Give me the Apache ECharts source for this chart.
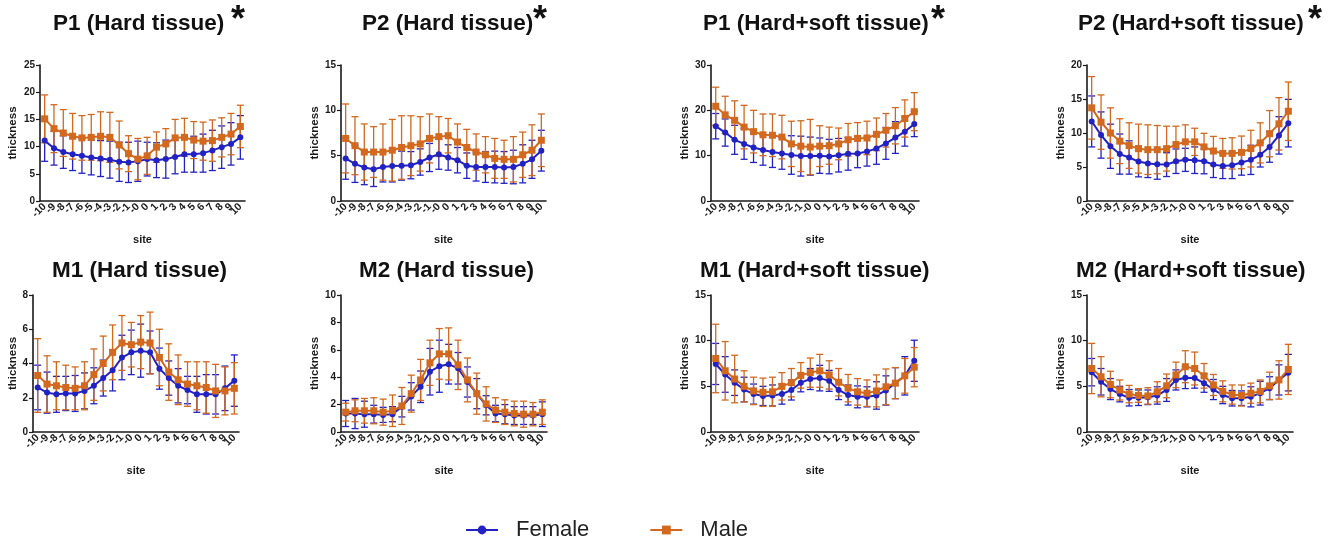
<!DOCTYPE html>
<html>
<head>
<meta charset="utf-8">
<script src="https://cdn.jsdelivr.net/npm/echarts@6/dist/echarts.min.js"></script>
<style>
html,body{margin:0;padding:0;background:#fff;}
#chart{width:1338px;height:537px;}
</style>
</head>
<body>
<div id="chart"></div>
<script>
// ---------- data ----------
const sites = ['-10','-9','-8','-7','-6','-5','-4','-3','-2','-1','-0','0','1','2','3','4','5','6','7','8','9','10'];

// P1 hard tissue
const p1HardF   = [11.1,9.7,9.0,8.6,8.3,8.0,7.8,7.6,7.2,7.1,7.3,7.7,7.5,7.7,8.1,8.6,8.6,8.8,9.3,9.9,10.5,11.7];
const p1HardFsd = [3.8,3.1,3.0,3.0,3.2,3.2,3.3,3.4,3.6,3.7,3.7,3.1,3.2,3.5,3.1,3.3,3.3,3.5,3.7,3.9,3.9,4.0];
const p1HardM   = [15.1,13.3,12.5,11.9,11.6,11.7,11.9,11.7,10.3,8.7,7.7,8.3,9.9,10.5,11.6,11.7,11.2,11.0,11.1,11.7,12.3,13.7];
const p1HardMsd = [4.4,4.4,4.3,4.2,4.1,4.2,4.5,4.6,4.4,3.3,3.8,3.4,2.8,2.8,3.4,3.5,3.4,3.5,3.8,3.6,3.8,3.9];
// P2 hard tissue
const p2HardF   = [4.7,4.1,3.7,3.5,3.75,3.85,3.9,3.95,4.3,4.8,5.15,4.8,4.5,3.9,3.75,3.75,3.75,3.7,3.75,4.1,4.6,5.55];
const p2HardFsd = [2.3,2.05,1.9,1.9,1.65,1.75,1.6,1.5,1.45,1.55,1.65,1.4,1.4,1.4,1.55,1.7,1.75,1.75,1.85,2.1,2.1,2.25];
const p2HardM   = [6.9,6.1,5.4,5.4,5.4,5.6,5.9,6.1,6.3,6.9,7.1,7.2,6.5,5.9,5.4,5.1,4.7,4.6,4.6,5.1,5.6,6.7];
const p2HardMsd = [3.8,3.2,3.1,2.8,3.1,3.4,3.5,3.3,3.0,2.7,2.2,1.9,2.0,2.0,2.0,2.0,2.2,2.1,2.5,2.5,2.8,2.9];
// P1 hard + soft tissue
const p1SoftF   = [16.5,15.1,13.5,12.6,11.8,11.25,10.8,10.5,10.15,9.9,9.9,10.0,9.8,10.1,10.4,10.5,10.9,11.6,12.7,14.0,15.3,17.0];
const p1SoftFsd = [2.8,3.0,3.2,3.4,3.3,3.35,3.4,3.5,4.25,4.4,4.2,3.9,3.8,3.7,3.6,3.15,3.2,3.5,3.5,3.5,3.2,2.8];
const p1SoftM   = [20.9,19.0,17.8,16.3,15.3,14.6,14.5,14.1,12.6,12.1,11.9,12.1,12.2,12.6,13.5,13.8,13.9,14.7,15.6,16.6,18.2,19.7];
const p1SoftMsd = [4.2,4.1,4.3,4.8,4.7,4.6,4.7,4.8,5.0,5.6,6.1,4.5,4.1,3.5,3.6,3.5,3.7,3.6,3.7,4.0,4.1,4.2];
// P2 hard + soft tissue
const p2SoftF   = [11.7,9.7,8.05,6.9,6.4,5.8,5.5,5.4,5.35,5.85,6.05,6.0,5.85,5.35,5.15,5.25,5.65,6.05,6.8,7.95,9.65,11.45];
const p2SoftFsd = [3.75,3.4,3.25,2.95,2.45,2.25,2.05,2.2,1.75,1.8,1.7,1.95,1.85,1.9,1.85,1.95,1.85,2.15,1.8,2.25,2.75,3.5];
const p2SoftM   = [13.7,11.6,10.0,8.8,8.15,7.7,7.55,7.55,7.7,8.3,8.7,8.7,7.95,7.35,7.0,7.0,7.15,7.7,8.55,9.9,11.35,13.2];
const p2SoftMsd = [4.6,4.0,3.7,3.3,3.35,3.6,3.65,3.55,3.3,2.7,2.5,2.0,2.0,2.15,2.2,2.3,2.4,2.7,2.95,3.4,3.85,4.3];
// M1 hard tissue
const m1HardF   = [2.6,2.3,2.2,2.25,2.25,2.4,2.7,3.15,3.6,4.35,4.65,4.75,4.65,3.7,3.15,2.7,2.45,2.2,2.2,2.2,2.55,3.0];
const m1HardFsd = [1.3,1.2,1.05,1.0,1.05,1.05,1.05,1.05,1.2,1.3,1.3,1.55,1.25,1.2,1.0,1.0,0.8,1.05,1.15,1.15,1.3,1.5];
const m1HardM   = [3.3,2.8,2.7,2.6,2.55,2.7,3.35,4.0,4.65,5.2,5.1,5.25,5.2,4.35,3.5,3.05,2.8,2.7,2.6,2.4,2.4,2.55];
const m1HardMsd = [2.15,1.65,1.4,1.3,1.25,1.4,1.5,1.6,1.6,1.6,1.3,1.55,1.8,1.65,1.65,1.45,1.3,1.4,1.5,1.55,1.4,1.5];
// M2 hard tissue
const m2HardF   = [1.35,1.35,1.3,1.3,1.25,1.3,1.85,2.6,3.3,4.4,4.8,4.95,4.65,3.65,2.8,1.95,1.35,1.3,1.2,1.2,1.2,1.3];
const m2HardFsd = [0.95,1.1,0.95,0.65,0.55,0.55,0.75,1.0,1.15,1.7,1.9,1.45,1.15,1.1,1.1,0.7,0.6,0.7,0.65,0.65,0.65,0.9];
const m2HardM   = [1.45,1.55,1.55,1.55,1.45,1.55,1.9,2.8,3.8,5.05,5.7,5.7,4.9,3.8,2.8,2.05,1.6,1.45,1.35,1.3,1.3,1.45];
const m2HardMsd = [0.65,0.8,0.9,0.95,0.95,1.15,1.35,1.35,1.5,1.65,1.85,1.9,1.8,1.6,1.5,1.25,0.9,0.9,0.9,0.95,0.85,0.9];
// M1 hard + soft tissue
const m1SoftF   = [7.45,6.3,5.4,4.65,4.15,3.95,4.0,4.15,4.6,5.4,5.8,5.9,5.6,4.6,4.05,3.85,3.85,4.0,4.55,5.35,6.15,7.8];
const m1SoftFsd = [2.25,1.95,1.4,1.35,1.1,1.05,1.15,1.1,1.1,1.0,1.15,1.4,1.15,1.05,1.1,1.2,1.1,1.5,1.6,1.7,2.1,2.25];
const m1SoftM   = [8.05,6.7,5.8,5.0,4.5,4.35,4.4,5.0,5.4,6.2,6.5,6.7,6.25,5.45,4.8,4.4,4.25,4.5,4.95,5.35,6.15,7.1];
const m1SoftMsd = [3.75,3.2,2.6,1.7,1.5,1.55,1.6,1.5,1.55,1.4,1.6,1.8,1.55,1.5,1.5,1.45,1.45,1.75,1.95,1.7,1.9,2.15];
// M2 hard + soft tissue
const m2SoftF   = [6.55,5.5,4.7,4.15,3.75,3.75,3.8,4.0,4.6,5.7,5.95,5.9,5.35,4.65,4.05,3.7,3.7,3.85,4.25,4.8,5.7,6.5];
const m2SoftFsd = [1.5,1.45,1.15,0.85,0.9,0.85,0.8,0.95,1.25,1.1,1.2,1.1,1.0,1.1,0.95,0.85,0.8,1.1,1.3,1.25,1.65,2.0];
const m2SoftM   = [6.95,6.05,5.2,4.6,4.15,4.0,3.95,4.4,5.05,6.25,7.15,6.95,6.15,5.15,4.45,4.1,4.0,4.25,4.45,5.05,5.7,6.85];
const m2SoftMsd = [2.75,2.2,1.45,1.1,0.95,0.75,0.9,1.1,1.3,1.4,1.75,1.8,1.35,1.15,1.15,1.05,1.15,1.1,1.25,1.5,2.1,2.75];

const seriesNames = ['Female','Male'];
const titles = ['P1 (Hard tissue)','P2 (Hard tissue)','P1 (Hard+soft tissue)','P2 (Hard+soft tissue)',
                'M1 (Hard tissue)','M2 (Hard tissue)','M1 (Hard+soft tissue)','M2 (Hard+soft tissue)'];
const yMax = [25,15,30,20,8,10,15,15];
const yStep = [5,5,10,5,2,2,5,5];

// ---------- layout ----------
const FEMALE = '#2222c4';
const MALE = '#d2691e';
const INK = '#1a1a1a';
const FONT = '"Liberation Sans", Arial, Helvetica, sans-serif';

const panels = [
  {f:p1HardF,fsd:p1HardFsd,m:p1HardM,msd:p1HardMsd, grid:[40,65,205,136], yGap:21, tx:53, ty:24, star:231},
  {f:p2HardF,fsd:p2HardFsd,m:p2HardM,msd:p2HardMsd, grid:[341,65,205,136], yGap:20, tx:362, ty:24, star:533},
  {f:p1SoftF,fsd:p1SoftFsd,m:p1SoftM,msd:p1SoftMsd, grid:[711,65,208,136], yGap:17, tx:703, ty:24, star:931},
  {f:p2SoftF,fsd:p2SoftFsd,m:p2SoftM,msd:p2SoftMsd, grid:[1087,65,206,136], yGap:19, tx:1078, ty:24, star:1308},
  {f:m1HardF,fsd:m1HardFsd,m:m1HardM,msd:m1HardMsd, grid:[33,295,206,137], yGap:14, tx:52, ty:271},
  {f:m2HardF,fsd:m2HardFsd,m:m2HardM,msd:m2HardMsd, grid:[341,295,206,137], yGap:20, tx:359, ty:271},
  {f:m1SoftF,fsd:m1SoftFsd,m:m1SoftM,msd:m1SoftMsd, grid:[711,295,208,137], yGap:17, tx:700, ty:271},
  {f:m2SoftF,fsd:m2SoftFsd,m:m2SoftM,msd:m2SoftMsd, grid:[1087,295,206,137], yGap:19, tx:1076, ty:271}
];

function errRender(color){
  return function(params, api){
    const x = api.value(0);
    const lo = api.coord([x, api.value(1)]);
    const hi = api.coord([x, api.value(2)]);
    const w = 3.5;
    const st = {stroke: color, lineWidth: 1.3};
    return {type:'group', children:[
      {type:'line', shape:{x1:lo[0],y1:lo[1],x2:hi[0],y2:hi[1]}, style:st},
      {type:'line', shape:{x1:hi[0]-w,y1:hi[1],x2:hi[0]+w,y2:hi[1]}, style:st},
      {type:'line', shape:{x1:lo[0]-w,y1:lo[1],x2:lo[0]+w,y2:lo[1]}, style:st}
    ]};
  };
}

const grid = [], xAxis = [], yAxis = [], series = [], graphic = [];
panels.forEach((p, i) => {
  grid.push({left:p.grid[0], top:p.grid[1], width:p.grid[2], height:p.grid[3], containLabel:false});
  xAxis.push({
    type:'category', gridIndex:i, data:sites, boundaryGap:true,
    name:'site', nameLocation:'middle', nameGap:33,
    nameTextStyle:{fontWeight:'bold', fontSize:11, color:INK, fontFamily:FONT},
    axisLine:{lineStyle:{color:INK, width:1.6}},
    axisTick:{alignWithLabel:true, interval:0, length:4, lineStyle:{color:INK, width:1.2}},
    axisLabel:{interval:0, rotate:45, fontSize:10.5, fontWeight:'bold', color:INK, margin:4, fontFamily:FONT},
    splitLine:{show:false}
  });
  yAxis.push({
    type:'value', gridIndex:i, min:0, max:yMax[i], interval:yStep[i],
    name:'thickness', nameLocation:'middle', nameGap:p.yGap, nameRotate:90,
    nameTextStyle:{fontWeight:'bold', fontSize:11.5, color:INK, fontFamily:FONT},
    axisLine:{show:true, lineStyle:{color:INK, width:1.6}},
    axisTick:{show:true, length:4, lineStyle:{color:INK, width:1.2}},
    axisLabel:{fontSize:10, fontWeight:'bold', color:INK, margin:5, fontFamily:FONT},
    splitLine:{show:false}
  });
  const groups = [
    {name:seriesNames[0], mean:p.f, sd:p.fsd, color:FEMALE, symbol:'circle', size:6},
    {name:seriesNames[1], mean:p.m, sd:p.msd, color:MALE, symbol:'rect', size:7}
  ];
  groups.forEach(g => {
    series.push({
      type:'custom', name:g.name + ' SD', xAxisIndex:i, yAxisIndex:i,
      renderItem: errRender(g.color),
      encode:{x:0, y:[1,2]},
      data: g.mean.map((v,j) => [j, v - g.sd[j], v + g.sd[j]]),
      z:2, silent:true
    });
  });
  groups.forEach(g => {
    series.push({
      type:'line', name:g.name, xAxisIndex:i, yAxisIndex:i, data:g.mean,
      symbol:g.symbol, symbolSize:g.size, showAllSymbol:true,
      lineStyle:{color:g.color, width:2}, itemStyle:{color:g.color},
      z:4, animation:false
    });
  });
  graphic.push({type:'text', x:p.tx, y:p.ty, silent:true,
    style:{text:titles[i], font:'bold 22.5px ' + FONT, fill:'#111', textAlign:'left', textVerticalAlign:'middle'}});
  if (p.star) {
    graphic.push({type:'text', x:p.star, y:21, silent:true,
      style:{text:'*', font:'bold 36px ' + FONT, fill:'#111', textAlign:'left', textVerticalAlign:'middle'}});
  }
});

const chart = echarts.init(document.getElementById('chart'), null, {renderer:'canvas'});
chart.setOption({
  animation:false,
  backgroundColor:'#ffffff',
  textStyle:{fontFamily:FONT},
  grid, xAxis, yAxis, series, graphic,
  legend:{
    data:seriesNames, left:460, top:514, itemWidth:32, itemHeight:11, itemGap:60,
    textStyle:{fontSize:22, color:'#222', fontFamily:FONT, padding:[0,0,0,13]},
    selectedMode:false
  }
});
</script>
</body>
</html>
